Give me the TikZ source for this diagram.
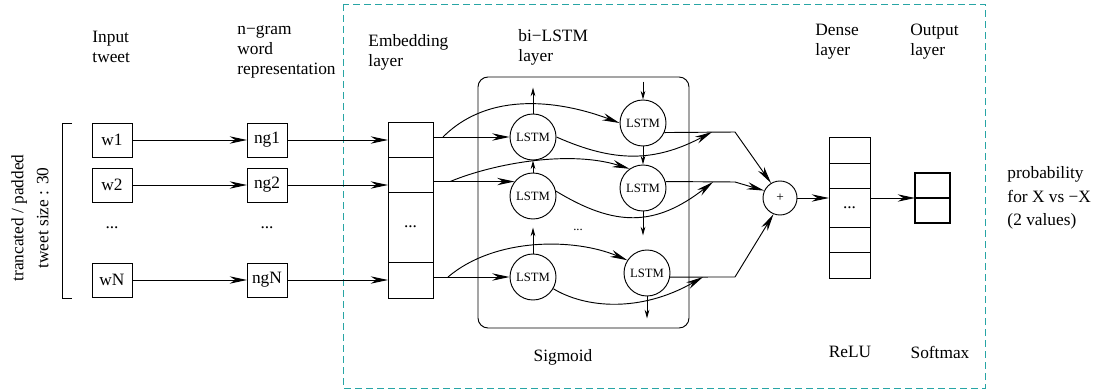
\documentclass[tikz,border=0pt]{standalone}
\usepackage{fontspec}
\setmainfont{Liberation Serif}
\usetikzlibrary{positioning,arrows.meta,calc}

\definecolor{frameteal}{RGB}{40,165,165}

\tikzset{
  cell/.style={draw,line width=0.7pt,inner sep=0pt,outer sep=0pt},
  wbox/.style={cell,minimum width=30pt,minimum height=25.5pt},
  lstm/.style={draw,circle,line width=0.7pt,inner sep=0pt,minimum size=34.5pt,font=\fontsize{9.5}{11}\selectfont},
  lbl/.style={anchor=west,align=left,inner sep=0pt},
  arr/.style={line width=0.7pt,-{Stealth[length=13pt,width=5.5pt]}},
  sarr/.style={line width=0.7pt,-{Stealth[length=6.5pt,width=3.5pt]}}
}

\begin{document}
\begin{tikzpicture}[x=0.75pt,y=-0.75pt,font=\fontsize{13}{15}\selectfont,line width=0.7pt]
\useasboundingbox (0,0) rectangle (1098,392);

\draw[color=frameteal,dash pattern=on 5.25pt off 3pt] (343,4) rectangle (985,388);

% headers
\node[lbl] (hin) at (92,47) {Input\\tweet};
\node[lbl] (hng) at (237,52) {n−gram\\word\\representation};
\node[lbl] (hemb) at (368,52) {Embedding\\layer};
\node[lbl] (hlstm) at (518,47) {bi−LSTM\\layer};
\node[lbl] (hdense) at (815,42) {Dense\\layer};
\node[lbl] (hout) at (910,42) {Output\\layer};
\node[lbl,align=left,font=\fontsize{13}{17.5}\selectfont] (prob) at (1007,198) {probability\\for X vs −X\\(2 values)};
\node (sig) at (563,357) {Sigmoid};
\node (relu) at (850,352) {ReLU};
\node (soft) at (940,352) {Softmax};

% tweet length
\draw (72,123) -- (62,123) -- (62,298) -- (72,298);
\node[rotate=90,align=center,font=\fontsize{13}{18.75}\selectfont] (tlen) at (30,218) {trancated / padded\\tweet size : 30};

% input words and n-grams
\node[wbox] (w1) at (112,140) {w1};
\node[wbox] (w2) at (112,185) {w2};
\node (wd) at (112,228) {...};
\node[wbox] (wN) at (112,280) {wN};
\node[wbox] (ng1) at (267,140) {ng1};
\node[wbox] (ng2) at (267,185) {ng2};
\node (ngd) at (267,228) {...};
\node[wbox] (ngN) at (267,280) {ngN};

% embedding
\node[cell,minimum width=33.75pt,minimum height=26.25pt] (emb1) at (410.5,139.5) {};
\node[cell,minimum width=33.75pt,minimum height=26.25pt,below=0pt of emb1] (emb2) {};
\node[cell,minimum width=33.75pt,minimum height=52.5pt,below=0pt of emb2] (embd) {...};
\node[cell,minimum width=33.75pt,minimum height=27pt,below=0pt of embd] (embN) {};

% bi-LSTM
\draw[rounded corners=7.5pt] (478,77) rectangle (689,328);
\node[lstm] (ll1) at (533,137) {LSTM};
\node[lstm] (ll2) at (533,196) {LSTM};
\node[lstm] (ll3) at (533,277) {LSTM};
\node[lstm] (rl1) at (643,123) {LSTM};
\node[lstm] (rl2) at (643,188) {LSTM};
\node[lstm] (rl3) at (647,273) {LSTM};
\node[font=\fontsize{9.5}{11}\selectfont] (ld) at (578,230) {...};

% merge, dense, output
\node[draw,circle,inner sep=0pt,minimum size=25.5pt,font=\fontsize{10}{12}\selectfont] (plus) at (780,198) {+};
\node[cell,minimum width=30.75pt,minimum height=19.5pt] (dn1) at (849.5,150) {};
\node[cell,minimum width=30.75pt,minimum height=18.75pt,below=0pt of dn1] (dn2) {};
\node[cell,minimum width=30.75pt,minimum height=29.25pt,below=0pt of dn2] (dn3) {...};
\node[cell,minimum width=30.75pt,minimum height=18.75pt,below=0pt of dn3] (dn4) {};
\node[cell,minimum width=30.75pt,minimum height=19.5pt,below=0pt of dn4] (dn5) {};
\node[cell,line width=1.3pt,minimum width=26.25pt,minimum height=18.75pt] (out1) at (932.5,185.5) {};
\node[cell,line width=1.3pt,minimum width=26.25pt,minimum height=18.75pt,below=0pt of out1] (out2) {};

\coordinate (j1) at (735,132);
\coordinate (j2) at (735,182);
\coordinate (j3) at (735,277);

% rows
\draw[arr] (w1) -- (ng1);
\draw[arr] (w2) -- (ng2);
\draw[arr] (wN) -- (ngN);
\draw[arr] (ng1) -- (ng1 -| emb1.west);
\draw[arr] (ng2) -- (ng2 -| embd.west);
\draw[arr] (ngN) -- (ngN -| embN.west);
\draw[arr] (ll1.west -| emb1.east) -- (ll1.west);
\draw[arr] (ll2.142 -| embd.east) -- (ll2.142);
\draw[arr] (ll3.west -| embd.east) -- (ll3.west);

% backward direction
\draw[arr] ($(ll1.west -| emb1.east)+(10,0)$) .. controls (495,85) and (575,106) .. (rl1.west);
\draw[arr] ($(ll2.142 -| embd.east)+(17,0)$) .. controls (495,163) and (570,150) .. (rl2.125);
\draw[arr] ($(ll3.west -| embd.east)+(15,0)$) .. controls (495,237) and (575,238) .. (rl3.147);

% forward outputs
\draw[arr] (ll1.east) .. controls (615,163) and (655,162) .. ($(j1)+(-23,0)$);
\draw[arr] (ll2.12) .. controls (615,227) and (655,227) .. ($(j2)+(-22,0)$);
\draw[arr] (ll3.-30) .. controls (585,308) and (640,313) .. ($(j3)+(-32,0)$);

% states
\draw[sarr] (ll1.north) -- ++(0,-26);
\draw[sarr] (ll2.north) -- (ll1.south);
\draw[sarr] (ll3.north) -- ++(0,-26);
\draw[sarr] ($(rl1.north)+(0,-18)$) -- (rl1.north);
\draw[sarr] (rl1.south) -- (rl2.north);
\draw[sarr] (rl2.south) -- ++(0,24);
\draw[sarr] (rl3.south) -- ++(0,22);

% merge
\draw (rl1.-24) -- (j1);
\draw (rl2.16) -- (j2);
\draw (rl3.-10) -- (j3);
\draw[arr] (j1) -- (plus.121);
\draw[arr] (j2) -- (plus.155);
\draw[arr] (j3) -- (plus.-112);
\draw[arr] (plus.east) -- (plus.east -| dn3.west);
\draw[arr] (plus.east -| dn3.east) -- (out1.south west);

\end{tikzpicture}
\end{document}
